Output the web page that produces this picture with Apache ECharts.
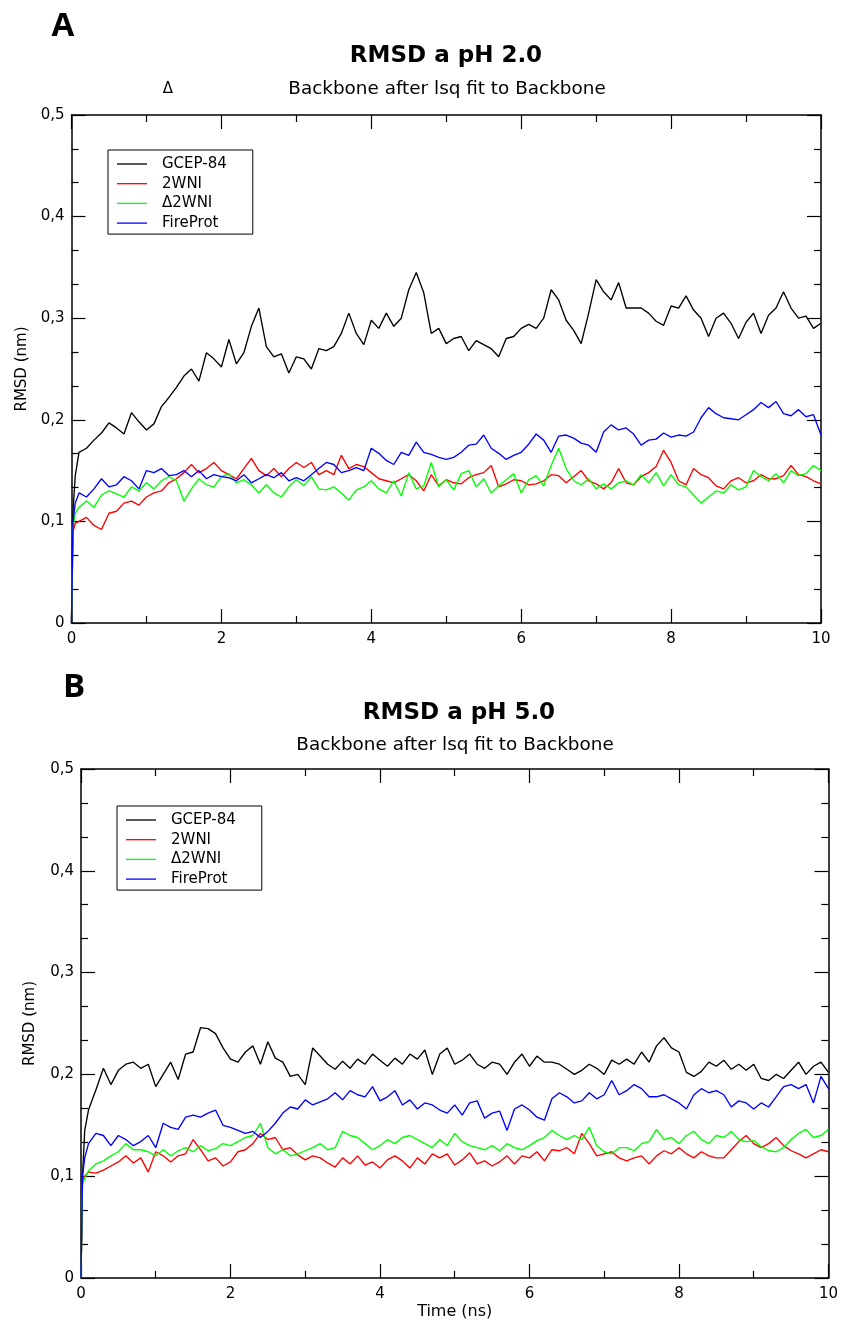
<!DOCTYPE html>
<html>
<head>
<meta charset="utf-8">
<script src="https://cdn.jsdelivr.net/npm/echarts@6.0.0/dist/echarts.min.js"></script>
<style>
html,body{margin:0;padding:0;background:#fff;}
#chart{width:841px;height:1324px;}
</style>
</head>
<body>
<div id="chart"></div>
<script>
// ---- data ----
const seriesNames = ['GCEP-84', '2WNI', '\u03942WNI', 'FireProt'];
const seriesColors = ['#000000', '#ff0000', '#00ff00', '#0000ff'];
const xTicks = [0, 2, 4, 6, 8, 10];
const yTicks = [0, 0.1, 0.2, 0.3, 0.4, 0.5];

// time (ns): 0, 0.02, 0.05, then 0.1 .. 10 by 0.1
const timeLead = [0, 0.02, 0.05];
const times = timeLead.slice();
for (let i = 1; i <= 100; i++) times.push(+(i / 10).toFixed(1));

// Panel A : pH 2.0
const A_GCEP84 = [0, 0.11, 0.145,
 0.168, 0.172, 0.18, 0.187, 0.197, 0.192, 0.186, 0.207, 0.198, 0.19,
 0.196, 0.213, 0.222, 0.232, 0.243, 0.25, 0.238, 0.266, 0.26, 0.252,
 0.279, 0.255, 0.266, 0.292, 0.31, 0.272, 0.262, 0.265, 0.246, 0.262,
 0.26, 0.25, 0.27, 0.268, 0.272, 0.285, 0.305, 0.285, 0.274, 0.298,
 0.29, 0.305, 0.292, 0.3, 0.328, 0.345, 0.325, 0.285, 0.29, 0.275,
 0.28, 0.282, 0.268, 0.278, 0.274, 0.27, 0.262, 0.28, 0.282, 0.29,
 0.294, 0.29, 0.3, 0.328, 0.318, 0.298, 0.288, 0.275, 0.305, 0.338,
 0.326, 0.318, 0.335, 0.31, 0.31, 0.31, 0.305, 0.297, 0.293, 0.312,
 0.31, 0.322, 0.308, 0.3, 0.282, 0.3, 0.305, 0.295, 0.28, 0.296,
 0.305, 0.285, 0.303, 0.31, 0.326, 0.31, 0.3, 0.302, 0.29, 0.295];
const A_2WNI = [0, 0.09, 0.098,
 0.1, 0.104, 0.096, 0.092, 0.108, 0.11, 0.118, 0.12, 0.116, 0.124,
 0.128, 0.13, 0.138, 0.142, 0.148, 0.156, 0.148, 0.152, 0.158, 0.15,
 0.146, 0.142, 0.152, 0.162, 0.15, 0.145, 0.152, 0.144, 0.152, 0.158,
 0.153, 0.158, 0.146, 0.15, 0.146, 0.165, 0.152, 0.156, 0.154, 0.148,
 0.142, 0.14, 0.138, 0.142, 0.146, 0.14, 0.13, 0.146, 0.135, 0.141,
 0.138, 0.137, 0.143, 0.146, 0.148, 0.155, 0.134, 0.137, 0.141, 0.14,
 0.136, 0.137, 0.14, 0.146, 0.145, 0.138, 0.144, 0.15, 0.14, 0.137,
 0.132, 0.138, 0.152, 0.138, 0.136, 0.144, 0.148, 0.154, 0.17, 0.158,
 0.14, 0.136, 0.152, 0.146, 0.143, 0.135, 0.132, 0.14, 0.143, 0.138,
 0.14, 0.146, 0.142, 0.142, 0.145, 0.155, 0.146, 0.144, 0.14, 0.137];
const A_D2WNI = [0, 0.095, 0.108,
 0.114, 0.12, 0.114, 0.126, 0.13, 0.127, 0.124, 0.134, 0.13, 0.138,
 0.132, 0.14, 0.144, 0.14, 0.12, 0.132, 0.142, 0.136, 0.134, 0.144,
 0.147, 0.138, 0.141, 0.136, 0.128, 0.136, 0.128, 0.124, 0.134, 0.141,
 0.135, 0.144, 0.132, 0.131, 0.134, 0.128, 0.121, 0.131, 0.134, 0.14,
 0.132, 0.128, 0.14, 0.125, 0.148, 0.132, 0.135, 0.158, 0.134, 0.141,
 0.131, 0.147, 0.15, 0.134, 0.142, 0.128, 0.135, 0.141, 0.147, 0.128,
 0.141, 0.145, 0.135, 0.155, 0.172, 0.152, 0.14, 0.136, 0.142, 0.132,
 0.137, 0.132, 0.138, 0.14, 0.136, 0.146, 0.138, 0.148, 0.135, 0.146,
 0.136, 0.134, 0.126, 0.118, 0.124, 0.13, 0.128, 0.136, 0.131, 0.134,
 0.15, 0.144, 0.14, 0.147, 0.138, 0.15, 0.145, 0.147, 0.155, 0.15];
const A_FireProt = [0, 0.1, 0.118,
 0.128, 0.124, 0.132, 0.142, 0.134, 0.136, 0.144, 0.14, 0.132, 0.15,
 0.148, 0.152, 0.145, 0.146, 0.15, 0.144, 0.15, 0.142, 0.146, 0.144,
 0.143, 0.14, 0.146, 0.138, 0.142, 0.146, 0.143, 0.148, 0.14, 0.143,
 0.14, 0.146, 0.152, 0.158, 0.156, 0.148, 0.15, 0.153, 0.15, 0.172,
 0.167, 0.16, 0.156, 0.168, 0.165, 0.178, 0.168, 0.166, 0.163, 0.161,
 0.163, 0.168, 0.175, 0.176, 0.185, 0.172, 0.167, 0.161, 0.165, 0.168,
 0.176, 0.186, 0.18, 0.168, 0.184, 0.185, 0.182, 0.177, 0.175, 0.168,
 0.188, 0.195, 0.19, 0.192, 0.186, 0.175, 0.18, 0.181, 0.187, 0.183,
 0.185, 0.184, 0.188, 0.202, 0.212, 0.206, 0.202, 0.201, 0.2, 0.205,
 0.21, 0.217, 0.212, 0.218, 0.206, 0.204, 0.21, 0.203, 0.205, 0.185];

// Panel B : pH 5.0
const B_GCEP84 = [0, 0.1, 0.145,
 0.165, 0.185, 0.206, 0.19, 0.204, 0.21, 0.212, 0.206, 0.21, 0.188,
 0.2, 0.212, 0.195, 0.22, 0.222, 0.246, 0.245, 0.24, 0.226, 0.215,
 0.212, 0.222, 0.228, 0.21, 0.232, 0.216, 0.212, 0.198, 0.2, 0.19,
 0.226, 0.218, 0.21, 0.205, 0.213, 0.206, 0.215, 0.21, 0.22, 0.214,
 0.208, 0.216, 0.21, 0.22, 0.215, 0.224, 0.2, 0.22, 0.226, 0.21,
 0.214, 0.22, 0.21, 0.206, 0.212, 0.21, 0.2, 0.212, 0.22, 0.208,
 0.218, 0.212, 0.212, 0.21, 0.205, 0.2, 0.204, 0.21, 0.206, 0.2,
 0.214, 0.21, 0.215, 0.21, 0.222, 0.212, 0.228, 0.236, 0.226, 0.222,
 0.202, 0.198, 0.203, 0.212, 0.208, 0.214, 0.205, 0.21, 0.204, 0.21,
 0.196, 0.194, 0.2, 0.196, 0.204, 0.212, 0.2, 0.208, 0.212, 0.202];
const B_2WNI = [0, 0.095, 0.1,
 0.104, 0.103, 0.106, 0.11, 0.114, 0.12, 0.113, 0.118, 0.104, 0.124,
 0.12, 0.114, 0.12, 0.122, 0.136, 0.126, 0.115, 0.118, 0.11, 0.114,
 0.124, 0.126, 0.132, 0.142, 0.136, 0.138, 0.126, 0.128, 0.121, 0.116,
 0.12, 0.118, 0.113, 0.109, 0.118, 0.112, 0.12, 0.111, 0.114, 0.108,
 0.116, 0.12, 0.115, 0.108, 0.118, 0.112, 0.122, 0.118, 0.122, 0.111,
 0.116, 0.123, 0.112, 0.115, 0.11, 0.114, 0.12, 0.112, 0.12, 0.118,
 0.124, 0.115, 0.126, 0.125, 0.128, 0.122, 0.142, 0.132, 0.12, 0.122,
 0.124, 0.118, 0.115, 0.118, 0.12, 0.112, 0.12, 0.125, 0.122, 0.128,
 0.122, 0.118, 0.124, 0.12, 0.118, 0.118, 0.126, 0.134, 0.14, 0.132,
 0.128, 0.132, 0.138, 0.13, 0.125, 0.122, 0.118, 0.122, 0.126, 0.124];
const B_D2WNI = [0, 0.092, 0.098,
 0.105, 0.112, 0.115, 0.12, 0.124, 0.132, 0.126, 0.126, 0.124, 0.12,
 0.126, 0.12, 0.125, 0.128, 0.124, 0.13, 0.125, 0.127, 0.132, 0.13,
 0.134, 0.138, 0.14, 0.152, 0.128, 0.122, 0.126, 0.12, 0.122, 0.125,
 0.128, 0.132, 0.126, 0.128, 0.144, 0.14, 0.138, 0.132, 0.126, 0.13,
 0.136, 0.132, 0.138, 0.14, 0.136, 0.132, 0.128, 0.136, 0.13, 0.142,
 0.134, 0.13, 0.128, 0.126, 0.13, 0.125, 0.132, 0.128, 0.126, 0.13,
 0.135, 0.138, 0.145, 0.14, 0.136, 0.14, 0.136, 0.148, 0.13, 0.124,
 0.122, 0.128, 0.128, 0.125, 0.132, 0.134, 0.146, 0.136, 0.138, 0.132,
 0.14, 0.144, 0.136, 0.132, 0.14, 0.138, 0.144, 0.136, 0.134, 0.135,
 0.129, 0.125, 0.124, 0.128, 0.136, 0.142, 0.146, 0.138, 0.14, 0.146];
const B_FireProt = [0, 0.1, 0.118,
 0.132, 0.142, 0.14, 0.13, 0.14, 0.136, 0.13, 0.134, 0.14, 0.128,
 0.152, 0.148, 0.146, 0.158, 0.16, 0.158, 0.162, 0.165, 0.15, 0.148,
 0.145, 0.142, 0.144, 0.138, 0.144, 0.152, 0.162, 0.168, 0.166, 0.175,
 0.17, 0.173, 0.176, 0.182, 0.175, 0.184, 0.18, 0.178, 0.188, 0.174,
 0.178, 0.184, 0.17, 0.175, 0.166, 0.172, 0.17, 0.165, 0.162, 0.17,
 0.16, 0.172, 0.174, 0.157, 0.162, 0.164, 0.145, 0.166, 0.17, 0.165,
 0.158, 0.155, 0.176, 0.182, 0.178, 0.172, 0.174, 0.182, 0.176, 0.18,
 0.194, 0.18, 0.184, 0.19, 0.186, 0.178, 0.178, 0.18, 0.176, 0.172,
 0.166, 0.18, 0.186, 0.182, 0.184, 0.18, 0.168, 0.174, 0.172, 0.166,
 0.172, 0.168, 0.178, 0.188, 0.19, 0.186, 0.19, 0.172, 0.198, 0.186];

const panelA = [A_GCEP84, A_2WNI, A_D2WNI, A_FireProt];
const panelB = [B_GCEP84, B_2WNI, B_D2WNI, B_FireProt];

// ---- chart ----
const FONT = 'DejaVu Sans';
const grids = [
  { left: 71.5, top: 115, width: 749.5, height: 508 },
  { left: 81, top: 769, width: 748.5, height: 509 }
];

function xAxisDef(g, pos, labels) {
  return {
    gridIndex: g, type: 'value', position: pos, min: 0, max: 10, interval: 2,
    axisLine: { show: true, onZero: false, lineStyle: { color: '#000', width: 1.5 } },
    axisTick: { show: true, inside: true, length: 14, lineStyle: { color: '#000', width: 1.2 } },
    minorTick: { show: true, splitNumber: 2, length: 7, lineStyle: { color: '#000', width: 1.2 } },
    axisLabel: { show: labels, margin: 9, fontFamily: FONT, fontSize: 15, color: '#000',
      customValues: xTicks, formatter: v => String(v) },
    splitLine: { show: false }, minorSplitLine: { show: false },
    name: (labels && g === 1) ? 'Time (ns)' : '', nameLocation: 'middle', nameGap: 26,
    nameTextStyle: { fontFamily: FONT, fontSize: 16, color: '#000' }
  };
}
function yAxisDef(g, pos, labels) {
  return {
    gridIndex: g, type: 'value', position: pos, min: 0, max: 0.5, interval: 0.1,
    axisLine: { show: true, onZero: false, lineStyle: { color: '#000', width: 1.5 } },
    axisTick: { show: true, inside: true, length: 14, lineStyle: { color: '#000', width: 1.2 } },
    minorTick: { show: true, splitNumber: 3, length: 7, lineStyle: { color: '#000', width: 1.2 } },
    axisLabel: { show: labels, margin: 7, fontFamily: FONT, fontSize: 15, color: '#000',
      formatter: v => (Math.abs(v) < 1e-9 ? '0' : (+v).toFixed(1).replace('.', ',')) },
    splitLine: { show: false }, minorSplitLine: { show: false },
    name: labels ? 'RMSD (nm)' : '', nameLocation: 'middle', nameRotate: 90,
    nameGap: g === 0 ? 42 : 43,
    nameTextStyle: { fontFamily: FONT, fontSize: 15, color: '#000' }
  };
}

const xAxes = [], yAxes = [];
for (let g = 0; g < 2; g++) {
  xAxes.push(xAxisDef(g, 'bottom', true));
  xAxes.push(xAxisDef(g, 'top', false));
  yAxes.push(yAxisDef(g, 'left', true));
  yAxes.push(yAxisDef(g, 'right', false));
}

const series = [];
[panelA, panelB].forEach((panel, g) => {
  panel.forEach((arr, k) => {
    series.push({
      type: 'line', name: seriesNames[k], xAxisIndex: g * 2, yAxisIndex: g * 2,
      data: times.map((t, i) => [t, arr[i]]),
      symbol: 'none', showSymbol: false, smooth: false,
      color: seriesColors[k],
      itemStyle: { color: seriesColors[k] },
      lineStyle: { color: seriesColors[k], width: 1.35 },
      z: 2 + k, silent: true
    });
  });
});

function legendDef(left, top) {
  return {
    orient: 'vertical', left: left, top: top, data: seriesNames,
    icon: 'rect', itemWidth: 30, itemHeight: 1.3, itemGap: 3.7,
    padding: [6, 26, 3, 9], borderColor: '#000', borderWidth: 1,
    selectedMode: false,
    textStyle: { fontFamily: FONT, fontSize: 15, color: '#000', lineHeight: 16, padding: [0, 0, 0, 10] }
  };
}

function txt(x, y, s, size, weight, family) {
  return { type: 'text', x: x, y: y, silent: true,
    style: { text: s, fontSize: size, fontWeight: weight || 'normal', fontFamily: family || FONT,
      fill: '#000', align: 'center', verticalAlign: 'middle' } };
}

const option = {
  animation: false,
  backgroundColor: '#fff',
  grid: grids.map(g => Object.assign({ containLabel: false, show: false }, g)),
  xAxis: xAxes,
  yAxis: yAxes,
  legend: [legendDef(108, 150), legendDef(117, 806)],
  series: series,
  graphic: [
    txt(63, 27, 'A', 33, 'bold', 'Open Sans'),
    txt(446, 56, 'RMSD a pH 2.0', 23, 'bold'),
    txt(168, 89, '\u0394', 15),
    txt(447, 89, 'Backbone after lsq fit to Backbone', 18.4),
    txt(74, 688, 'B', 33, 'bold', 'Open Sans'),
    txt(459, 713, 'RMSD a pH 5.0', 23, 'bold'),
    txt(455, 745, 'Backbone after lsq fit to Backbone', 18.4)
  ]
};

const chart = echarts.init(document.getElementById('chart'), null, { renderer: 'canvas' });
chart.setOption(option);
</script>
</body>
</html>
